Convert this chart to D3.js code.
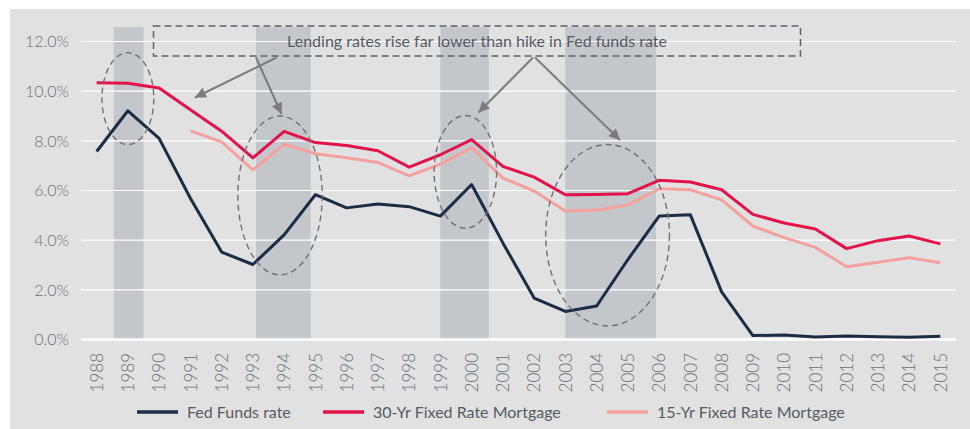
<!DOCTYPE html>
<html lang="en">
<head>
  <meta charset="UTF-8">
  <title>Fed funds vs mortgage rates</title>
  <script src="https://d3js.org/d3.v7.min.js"></script>
  <style>
    body { margin: 0; background: #fff; font-family: Lato, sans-serif; }
    .tick-label { font-size: 16px; fill: #6b7077; font-weight: 300; }
    .x-label { font-size: 17px; }
    .legend text { font-size: 16px; fill: #555b63; }
  </style>
</head>
<body>
  <svg width="970" height="429"></svg>

  <script>
    const years = d3.range(1988, 2016);
    const fedFunds = [7.57, 9.21, 8.10, 5.69, 3.52, 3.02, 4.21, 5.83, 5.30, 5.46, 5.35, 4.97, 6.24, 3.89,
      1.67, 1.13, 1.35, 3.22, 4.97, 5.02, 1.92, 0.16, 0.18, 0.10, 0.14, 0.11, 0.09, 0.13];
    const mortgage30 = [10.34, 10.32, 10.13, 9.25, 8.39, 7.31, 8.38, 7.93, 7.81, 7.60, 6.94, 7.44, 8.05, 6.97,
      6.54, 5.83, 5.84, 5.87, 6.41, 6.34, 6.03, 5.04, 4.69, 4.45, 3.66, 3.98, 4.17, 3.85];
    // 15-yr series starts in 1991
    const mortgage15 = [null, null, null, 8.40, 7.96, 6.83, 7.86, 7.48, 7.32, 7.13, 6.59, 7.06, 7.72, 6.50,
      5.98, 5.17, 5.21, 5.42, 6.07, 6.03, 5.62, 4.57, 4.10, 3.71, 2.93, 3.11, 3.29, 3.09];
    const yTicks = [0, 2, 4, 6, 8, 10, 12];
    // shaded periods, in years
    const bands = [[1988.55, 1989.5], [1993.1, 1994.85], [1999.0, 2000.55], [2003.0, 2005.9]];
    // dashed ellipses: [centre year, centre rate, half-width in years, half-height in %]
    const ellipses = [[1989.0, 9.7, 0.83, 1.85], [1993.87, 5.8, 1.35, 3.2], [1999.8, 6.75, 1.0, 2.27], [2004.35, 4.2, 1.98, 3.65]];
    const note = "Lending rates rise far lower than hike in Fed funds rate";
    const series = [
      { name: "Fed Funds rate", values: fedFunds, color: "#1b2c45" },
      { name: "30-Yr Fixed Rate Mortgage", values: mortgage30, color: "#e3134a" },
      { name: "15-Yr Fixed Rate Mortgage", values: mortgage15, color: "#f4a19d" }
    ];

    const svg = d3.select("svg");
    const left = 81, right = 956;

    svg.append("rect")
      .attr("x", 10).attr("y", 9).attr("width", 960).attr("height", 420)
      .attr("fill", "#e1e1e1");

    const step = (right - left) / years.length;
    const x = d3.scaleLinear().domain([1988, 2015]).range([left + step / 2, right - step / 2]);
    const y = d3.scaleLinear().domain([0, 12]).range([339.5, 41.5]);

    // shaded periods
    svg.append("g").selectAll("rect")
      .data(bands)
      .join("rect")
      .attr("x", d => x(d[0]))
      .attr("width", d => x(d[1]) - x(d[0]))
      .attr("y", 27)
      .attr("height", y(0) - 27)
      .attr("fill", "#c3c6cb");

    // gridlines
    svg.append("g").selectAll("line")
      .data(yTicks)
      .join("line")
      .attr("x1", left).attr("x2", right)
      .attr("y1", d => y(d)).attr("y2", d => y(d))
      .attr("stroke", "#fff")
      .attr("stroke-width", d => d === 0 ? 2.5 : 1.2);

    svg.append("g").selectAll("text")
      .data(yTicks)
      .join("text")
      .attr("class", "tick-label")
      .attr("x", 69)
      .attr("y", d => y(d))
      .attr("dy", "0.36em")
      .attr("text-anchor", "end")
      .text(d => d.toFixed(1) + "%");

    svg.append("g").selectAll("text")
      .data(years)
      .join("text")
      .attr("class", "tick-label x-label")
      .attr("transform", d => `translate(${x(d)},353) rotate(-90)`)
      .attr("dy", "0.36em")
      .attr("text-anchor", "end")
      .text(d => d);

    // annotation box
    svg.append("rect")
      .attr("x", 153.5).attr("y", 26)
      .attr("width", 647).attr("height", 30)
      .attr("fill", "none")
      .attr("stroke", "#5d636b")
      .attr("stroke-width", 1.5)
      .attr("stroke-dasharray", "7,4");

    svg.append("text")
      .attr("x", 477).attr("y", 41)
      .attr("dy", "0.36em")
      .attr("text-anchor", "middle")
      .attr("font-size", 16)
      .attr("fill", "#555b63")
      .text(note);

    // series lines
    const line = d3.line()
      .defined(d => d[1] != null)
      .x(d => x(d[0]))
      .y(d => y(d[1]));

    svg.append("g").selectAll("path")
      .data(series)
      .join("path")
      .attr("d", s => line(years.map((yr, i) => [yr, s.values[i]])))
      .attr("fill", "none")
      .attr("stroke", s => s.color)
      .attr("stroke-width", 3)
      .attr("stroke-linejoin", "round");

    // dashed ellipses
    svg.append("g").selectAll("ellipse")
      .data(ellipses)
      .join("ellipse")
      .attr("cx", d => x(d[0]))
      .attr("cy", d => y(d[1]))
      .attr("rx", d => x(d[2]) - x(0))
      .attr("ry", d => y(0) - y(d[3]))
      .attr("fill", "none")
      .attr("stroke", "#6f7175")
      .attr("stroke-width", 1.4)
      .attr("stroke-dasharray", "6,4");

    // arrows from the note to the ellipses
    svg.append("defs").append("marker")
      .attr("id", "head")
      .attr("viewBox", "0 0 10 10")
      .attr("refX", 10).attr("refY", 5)
      .attr("markerWidth", 6).attr("markerHeight", 5.5)
      .attr("orient", "auto")
      .append("path")
      .attr("d", "M0,0L10,5L0,10Z")
      .attr("fill", "#7a7c80");

    const arrows = [[276.5, 57.5, 195, 97.5], [256, 57.5, 281.5, 114], [533, 57.5, 478.5, 112.5], [535, 57.5, 620, 140]];
    svg.append("g").selectAll("line")
      .data(arrows)
      .join("line")
      .attr("x1", d => d[0]).attr("y1", d => d[1])
      .attr("x2", d => d[2]).attr("y2", d => d[3])
      .attr("stroke", "#7a7c80")
      .attr("stroke-width", 2)
      .attr("marker-end", "url(#head)");

    // legend
    const legendX = [137, 323, 607];
    const legend = svg.append("g").attr("class", "legend")
      .selectAll("g")
      .data(series)
      .join("g")
      .attr("transform", (d, i) => `translate(${legendX[i]},412)`);
    legend.append("line")
      .attr("x2", 41)
      .attr("stroke", d => d.color)
      .attr("stroke-width", 3.5);
    legend.append("text")
      .attr("x", 50)
      .attr("dy", "0.36em")
      .text(d => d.name);
  </script>
</body>
</html>
